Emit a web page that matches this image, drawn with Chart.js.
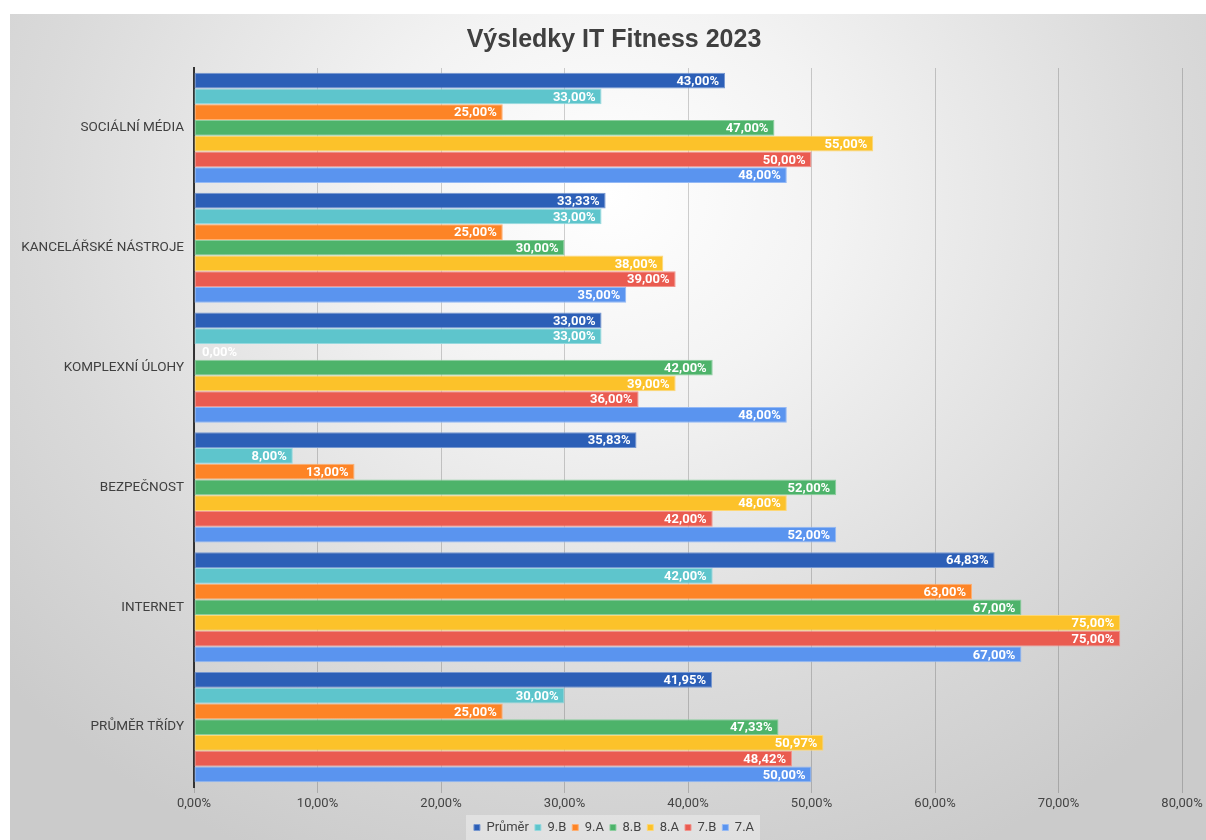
<!DOCTYPE html>
<html>
<head>
<meta charset="utf-8">
<title>Výsledky IT Fitness 2023</title>
<script src="https://cdn.jsdelivr.net/npm/chart.js@4"></script>
<style>
  html, body { margin: 0; padding: 0; background: #fff; }
  #wrap {
    position: absolute; left: 10px; top: 14px; width: 1196px; height: 826px;
    background: radial-gradient(ellipse 68% 88% at 50% 22%, #ffffff 0%, #f3f3f3 28%, #dadada 70%, #cbcbcb 100%);
  }
</style>
</head>
<body>
<div id="wrap"><canvas id="chart" width="1196" height="826"></canvas></div>
<script>
// Data
const categories = ['SOCIÁLNÍ MÉDIA', 'KANCELÁŘSKÉ NÁSTROJE', 'KOMPLEXNÍ ÚLOHY', 'BEZPEČNOST', 'INTERNET', 'PRŮMĚR TŘÍDY'];
const prumer = [43, 33.33, 33, 35.83, 64.83, 41.95];
const trida9B = [33, 33, 33, 8, 42, 30];
const trida9A = [25, 25, 0, 13, 63, 25];
const trida8B = [47, 30, 42, 52, 67, 47.33];
const trida8A = [55, 38, 39, 48, 75, 50.97];
const trida7B = [50, 39, 36, 42, 75, 48.42];
const trida7A = [48, 35, 48, 52, 67, 50];
const xMax = 80;
const xStep = 10;

const FONT = 'Roboto, "Liberation Sans", sans-serif';

// mix a hex colour with white
function lighten(hex, amt) {
    const n = parseInt(hex.slice(1), 16);
    const r = (n >> 16) & 255, g = (n >> 8) & 255, b = n & 255;
    const mix = c => Math.round(c + (255 - c) * amt);
    return `rgb(${mix(r)},${mix(g)},${mix(b)})`;
}

function fmt(v) {
    return v.toFixed(2).replace('.', ',') + '%';
}

function series(label, data, color) {
    return {
        label: label,
        data: data,
        backgroundColor: color,
        borderColor: lighten(color, 0.35),
        borderWidth: 1,
        borderSkipped: false,
        barPercentage: 1,
        categoryPercentage: 0.92
    };
}

// Value labels inside bar ends
const valueLabels = {
    id: 'valueLabels',
    afterDatasetsDraw(chart) {
        const ctx = chart.ctx;
        ctx.save();
        ctx.font = `bold 13px ${FONT}`;
        ctx.fillStyle = '#ffffff';
        ctx.textBaseline = 'middle';
        chart.data.datasets.forEach((ds, i) => {
            const meta = chart.getDatasetMeta(i);
            meta.data.forEach((bar, j) => {
                const v = ds.data[j];
                if (v === 0) {
                    ctx.textAlign = 'left';
                    ctx.fillText(fmt(v), bar.base + 8, bar.y + 1);
                } else {
                    ctx.textAlign = 'right';
                    ctx.fillText(fmt(v), bar.x - 6, bar.y + 1);
                }
            });
        });
        ctx.restore();
    }
};

// Title and legend sit a little right of the canvas centre
const shiftBlocks = {
    id: 'shiftBlocks',
    afterLayout(chart) {
        [chart.titleBlock, chart.legend].forEach(box => {
            if (!box) return;
            box.left += 14;
            box.right += 14;
        });
    }
};

// Light box behind the legend
const legendBox = {
    id: 'legendBox',
    beforeDraw(chart) {
        const boxes = chart.legend && chart.legend.legendHitBoxes;
        if (!boxes || !boxes.length) return;
        const ctx = chart.ctx;
        const left = Math.min(...boxes.map(b => b.left)) - 8;
        const right = Math.max(...boxes.map(b => b.left + b.width)) + 6;
        const top = boxes[0].top - 6;
        ctx.save();
        ctx.fillStyle = 'rgba(255,255,255,0.35)';
        ctx.fillRect(left, top, right - left, chart.height - top);
        ctx.restore();
    }
};

const ctx = document.getElementById('chart').getContext('2d');
const chart = new Chart(ctx, {
    type: 'bar',
    data: {
        labels: categories,
        datasets: [
            series('Průměr', prumer, '#2c5fb7'),
            series('9.B', trida9B, '#5ec5cc'),
            series('9.A', trida9A, '#fd8426'),
            series('8.B', trida8B, '#4db36a'),
            series('8.A', trida8A, '#fcc22a'),
            series('7.B', trida7B, '#ea5b50'),
            series('7.A', trida7A, '#5a94ef')
        ]
    },
    options: {
        indexAxis: 'y',
        responsive: false,
        animation: false,
        layout: {
            padding: { left: 8, right: 24, top: 11, bottom: -4 }
        },
        scales: {
            x: {
                min: 0,
                max: xMax,
                ticks: {
                    stepSize: xStep,
                    callback: v => fmt(v),
                    color: '#444',
                    font: { family: FONT, size: 13 },
                    padding: 3,
                    maxRotation: 0
                },
                grid: {
                    color: 'rgba(0,0,0,0.18)',
                    tickLength: 6
                },
                border: { display: false },
                afterFit(scale) { scale.height = 28; }
            },
            y: {
                ticks: {
                    color: '#404040',
                    font: { family: FONT, size: 13.5 },
                    padding: 2
                },
                grid: { display: false },
                border: { display: true, color: '#333', width: 2 },
                afterFit(scale) { scale.width = 176; }
            }
        },
        plugins: {
            title: {
                display: true,
                text: 'Výsledky IT Fitness 2023',
                color: '#404040',
                font: { family: '"Liberation Sans", Arial, sans-serif', size: 25, weight: 'bold' },
                padding: { top: 0, bottom: 13 }
            },
            legend: {
                position: 'bottom',
                labels: {
                    usePointStyle: true,
                    pointStyle: 'rect',
                    boxWidth: 6,
                    boxHeight: 6,
                    padding: 6,
                    color: '#444',
                    font: { family: FONT, size: 13 }
                }
            },
            tooltip: { enabled: false }
        }
    },
    plugins: [valueLabels, shiftBlocks, legendBox]
});
</script>
</body>
</html>
